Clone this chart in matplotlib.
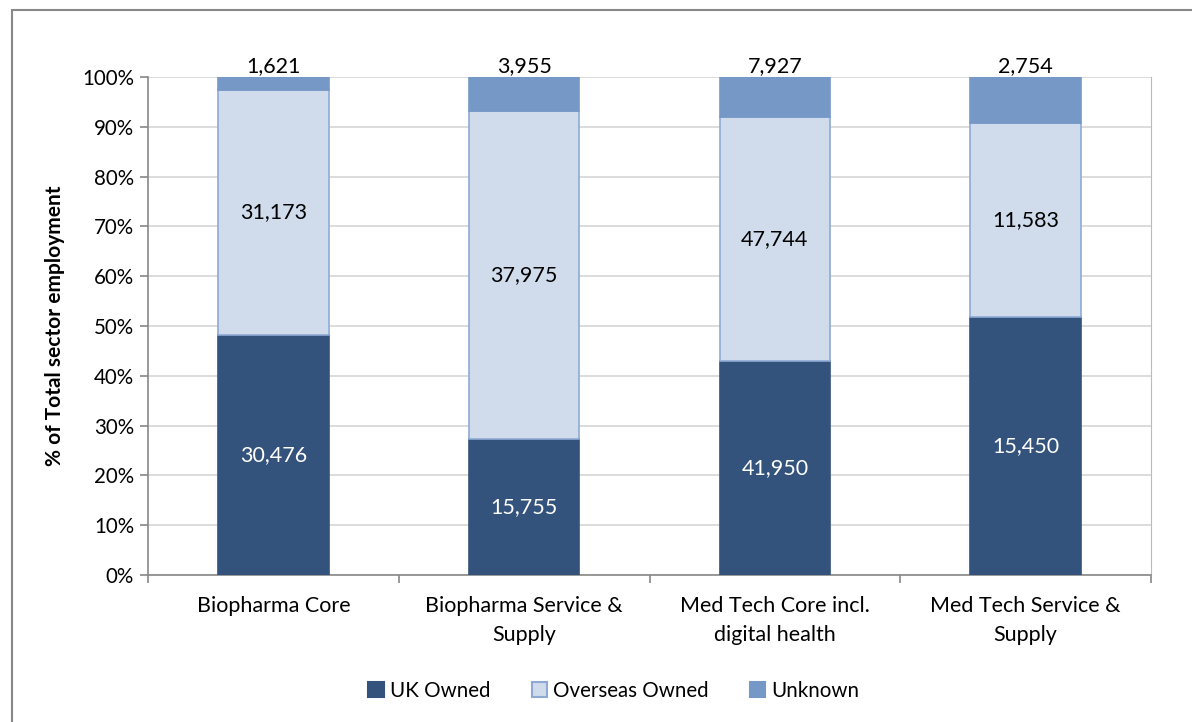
import matplotlib
matplotlib.use('Agg')
import matplotlib.pyplot as plt
from matplotlib.patches import Rectangle, Patch
from matplotlib.ticker import PercentFormatter, FixedLocator
import numpy as np

plt.rcParams['font.family'] = ['Lato', 'DejaVu Sans']

categories = ['Biopharma Core', 'Biopharma Service &\nSupply',
              'Med Tech Core incl.\ndigital health', 'Med Tech Service &\nSupply']
uk_owned = [30476, 15755, 41950, 15450]
overseas_owned = [31173, 37975, 47744, 11583]
unknown = [1621, 3955, 7927, 2754]

series = [
    ('UK Owned', uk_owned, '#34537C', '#34537C', 'white'),
    ('Overseas Owned', overseas_owned, '#D0DCEC', '#8EAAD4', 'black'),
    ('Unknown', unknown, '#7598C7', '#7598C7', 'black'),
]

fig = plt.figure(figsize=(11.92, 7.22), dpi=100)
ax = fig.add_axes([148 / 1192, 1 - 575 / 722, (1151 - 148) / 1192, (575 - 77) / 722])

# outer chart frame
fig.patches.append(Rectangle((12 / 1192, -0.05), 1.2, 1 - 10 / 722 + 0.05,
                             transform=fig.transFigure, fill=False,
                             edgecolor='#888888', lw=1.5))

totals = np.array(uk_owned) + np.array(overseas_owned) + np.array(unknown)
x = np.arange(len(categories))
bottom = np.zeros(len(categories))
for name, vals, fc, ec, tc in series:
    share = np.array(vals) / totals * 100
    ax.bar(x, share, 0.44, bottom=bottom, color=fc, edgecolor=ec, lw=1.2,
           label=name, zorder=3)
    for xi, b, s, v in zip(x, bottom, share, vals):
        if name == 'Unknown':
            ax.text(xi, 100.1, f'{v:,}', ha='center', va='bottom',
                    fontsize=15.5, color='black')
        else:
            ax.text(xi, b + s / 2, f'{v:,}', ha='center', va='center',
                    fontsize=15.5, color=tc, zorder=4)
    bottom += share

ax.set_xlim(-0.5, len(categories) - 0.5)
ax.set_ylim(0, 100)
ax.yaxis.set_major_locator(FixedLocator(np.arange(0, 101, 10)))
ax.yaxis.set_major_formatter(PercentFormatter(decimals=0))
ax.grid(axis='y', color='#D9D9D9', lw=1.3, zorder=0)

ax.set_xticks(x)
ax.set_xticklabels(categories, fontsize=15.5, linespacing=1.6)
ax.set_xticks(np.arange(-0.5, len(categories)), minor=True)
ax.tick_params(axis='x', which='major', length=0, pad=15)
ax.tick_params(axis='x', which='minor', length=6, color='#888888', width=1.2)
ax.tick_params(axis='y', length=6, color='#888888', width=1.2, labelsize=14.8,
               pad=4)

ax.spines['top'].set_visible(False)
ax.spines['right'].set_color('#BBBBBB')
ax.spines['left'].set_color('#888888')
ax.spines['bottom'].set_color('#888888')
for side in ['left', 'bottom']:
    ax.spines[side].set_linewidth(1.2)

ax.set_ylabel('% of Total sector employment', fontsize=15, fontweight='bold',
              labelpad=12)

handles = [Patch(facecolor=fc, edgecolor=ec, lw=1.5, label=name)
           for name, vals, fc, ec, tc in series]
fig.legend(handles=handles, loc='center', bbox_to_anchor=(0.515, 1 - 691 / 722),
           ncol=3, frameon=False, fontsize=14.8, handlelength=0.75,
           handleheight=0.75, handletextpad=0.3, columnspacing=2.0)

fig.savefig('out.png', dpi=100)
